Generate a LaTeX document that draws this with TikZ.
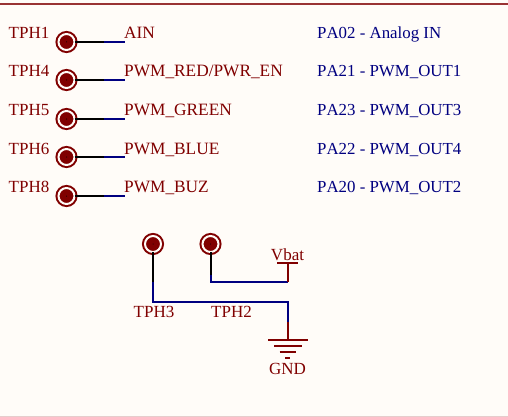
\documentclass[tikz,border=0pt]{standalone}
\usepackage{fontspec}
\setmainfont[Kerning=Off]{Liberation Serif}
\definecolor{sheetbg}{HTML}{FFFCF8}
\definecolor{pinred}{HTML}{800000}
\definecolor{netblue}{HTML}{000080}
\newcommand\us{\char95\relax}
\tikzset{
  pad/.style = {circle, draw = pinred, fill = pinred, line width = 2pt, double = sheetbg, double distance = 2pt, minimum size = 16pt, inner sep = 0pt, outer sep = 0pt},
  redtext/.style = {text = pinred, font = \fontsize{17}{18}\selectfont, inner sep = 0pt, anchor = base west},
  nettext/.style = {redtext, font = \fontsize{17.3}{18}\selectfont},
  bluetext/.style = {text = netblue, font = \fontsize{16.85}{18}\selectfont, inner sep = 0pt, anchor = base west},
  pinwire/.style = {draw = black, line width = 2pt},
  netwire/.style = {draw = netblue, line width = 2pt},
  symline/.style = {draw = pinred, line width = 2pt}
}
\begin{document}
\begin{tikzpicture}[x = 1pt, y = -1pt]
\useasboundingbox (0,0) rectangle (508,417);
\fill[sheetbg] (0,0) rectangle (508,417);
\draw[draw = pinred!80, line width = 1.5pt] (0,4) -- (508,4);
\draw[draw = pinred!20, line width = 1pt] (0,416.5) -- (508,416.5);
\foreach \name/\row/\base/\net/\pa in {1/42/38.5/AIN/PA02 - Analog IN, 4/80/77/PWM\us RED\slash PWR\us EN/PA21 - PWM\us OUT1, 5/119/115.5/PWM\us GREEN/PA23 - PWM\us OUT3, 6/157/154.5/PWM\us BLUE/PA22 - PWM\us OUT4, 8/196/192.5/PWM\us BUZ/PA20 - PWM\us OUT2} {
  \node[pad] (tph\name) at (66.5,\row) {};
  \fill[black] (tph\name.center) circle (0.5);
  \node[redtext] (ref\name) at (8.5,\base) {TPH\name};
  \node[nettext] (net\name) at (124,\base) {\net};
  \node[bluetext] (pa\name) at (317,\base) {\pa};
  \coordinate (mid\name) at (104,\row);
  \coordinate (end\name) at (124.5,\row);
  \draw[pinwire] (tph\name) -- (mid\name);
  \draw[netwire] (mid\name) -- (end\name);
}
% lower pads
\node[pad] (tph3) at (153,244) {};
\node[pad] (tph2) at (210.5,244) {};
\fill[black] (tph3.center) circle (0.5);
\fill[black] (tph2.center) circle (0.5);
\node[redtext] (ref3) at (133.5,317) {TPH3};
\node[redtext] (ref2) at (211,317) {TPH2};
\node[redtext, anchor = base] (vbat) at (287.5,260) {Vbat};
\node[redtext, anchor = base] (gnd) at (287.5,374) {GND};
\coordinate (bar) at (287.5,263);
\coordinate (vstem) at (287.5,282);
\coordinate (mid2) at (210.5,275);
\coordinate (mid3) at (153,282);
\coordinate (gstem) at (287.5,322);
\coordinate (earth) at (287.5,340);
\draw[pinwire] (tph3) -- (mid3);
\draw[pinwire] (tph2) -- (mid2);
\draw[netwire] (mid3) |- (gstem |- 0,301.5) -- (gstem);
\draw[netwire] (mid2) |- (vstem);
\draw[symline] (vstem) -- (bar);
\draw[symline] (277,263) -- (297.5,263);
\draw[symline] (gstem) -- (earth);
\draw[symline] (268,340) -- (307.5,340);
\draw[symline] (274,346) -- (301.5,346);
\draw[symline] (279.5,352) -- (295.5,352);
\draw[symline] (285,357.5) -- (290,357.5);
\end{tikzpicture}
\end{document}
